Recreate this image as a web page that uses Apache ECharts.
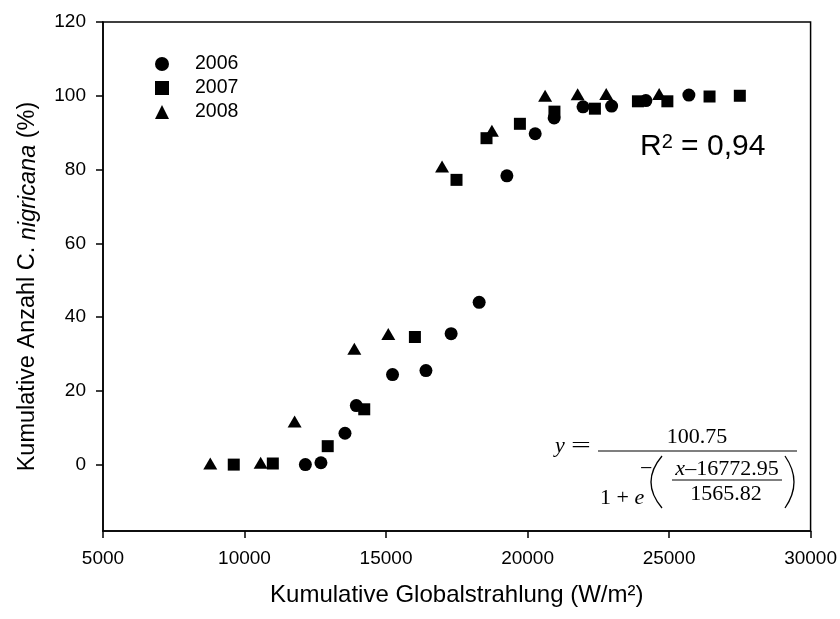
<!DOCTYPE html>
<html>
<head>
<meta charset="utf-8">
<script src="https://cdn.jsdelivr.net/npm/echarts@6/dist/echarts.min.js"></script>
<style>
  html, body { margin: 0; padding: 0; background: #fff; }
  #chart { width: 840px; height: 619px; }
</style>
</head>
<body>
<div id="chart"></div>
<script>
var myChart = echarts.init(document.getElementById('chart'));

// values
var years = ['2006', '2007', '2008'];

var x2006 = [12150, 12700, 13550, 13950, 15230, 16410, 17300, 18290, 19270, 20270, 20940, 21960, 22970, 24180, 25700];
var y2006 = [0, 0.5, 8.5, 16, 24.4, 25.5, 35.5, 44, 78.3, 89.7, 94, 97, 97.2, 98.7, 100.2];

var x2007 = [9620, 11000, 12940, 14230, 16020, 17490, 18550, 19730, 20950, 22380, 23900, 24940, 26430, 27500];
var y2007 = [0, 0.3, 5, 15, 34.6, 77.2, 88.5, 92.4, 95.7, 96.5, 98.5, 98.5, 99.8, 100];

var x2008 = [8790, 10570, 11770, 13880, 15080, 16980, 18740, 20620, 21770, 22780, 24650];
var y2008 = [0.3, 0.5, 11.7, 31.4, 35.4, 80.8, 90.5, 100, 100.4, 100.5, 100.5];

var yTicks = [0, 20, 40, 60, 80, 100, 120];

function pairs(xs, ys) {
    var out = [];
    for (var i = 0; i < xs.length; i++) {
        out.push([xs[i], ys[i]]);
    }
    return out;
}

var sans = '"Liberation Sans", Arial, sans-serif';
var serif = '"Liberation Serif", "Times New Roman", serif';
var axisLine = {onZero: false, lineStyle: {color: '#000', width: 1.5}};
var plain = function (v) { return String(v); };

myChart.setOption({
    backgroundColor: '#fff',
    animation: false,
    grid: {
        left: 103,
        right: 28,
        top: 22,
        bottom: 88,
        show: true,
        borderColor: '#000',
        borderWidth: 1.5
    },
    legend: {
        orient: 'vertical',
        left: 150,
        top: 49,
        itemWidth: 14,
        itemHeight: 14,
        itemGap: 4,
        selectedMode: false,
        data: years,
        textStyle: {
            fontFamily: sans,
            fontSize: 19.5,
            lineHeight: 20,
            color: '#000',
            padding: [0, 0, 0, 21]
        }
    },
    xAxis: {
        type: 'value',
        min: 5000,
        max: 30000,
        interval: 5000,
        axisLine: axisLine,
        axisTick: {show: true, length: 7, lineStyle: {color: '#000', width: 1.5}},
        axisLabel: {fontFamily: sans, fontSize: 19, color: '#000', margin: 18, formatter: plain},
        splitLine: {show: false},
        name: 'Kumulative Globalstrahlung (W/m²)',
        nameLocation: 'middle',
        nameGap: 52,
        nameTextStyle: {fontFamily: sans, fontSize: 24, color: '#000'}
    },
    yAxis: {
        type: 'value',
        min: -18,
        max: 120,
        axisLine: axisLine,
        axisTick: {show: true, length: 7, customValues: yTicks, lineStyle: {color: '#000', width: 1.5}},
        axisLabel: {fontFamily: sans, fontSize: 19, color: '#000', margin: 17, customValues: yTicks, formatter: plain},
        splitLine: {show: false},
        name: '{a|Kumulative Anzahl C. }{i|nigricana}{a| (%)}',
        nameLocation: 'middle',
        nameGap: 63,
        nameTextStyle: {
            fontFamily: sans,
            fontSize: 23.5,
            color: '#000',
            padding: [0, 20, 0, 0],
            rich: {
                a: {fontFamily: sans, fontSize: 23.5, color: '#000'},
                i: {fontFamily: sans, fontSize: 23.5, color: '#000', fontStyle: 'italic'}
            }
        }
    },
    series: [
        {
            name: '2006',
            type: 'scatter',
            symbol: 'circle',
            symbolSize: 13,
            itemStyle: {color: '#000', opacity: 1},
            data: pairs(x2006, y2006)
        },
        {
            name: '2007',
            type: 'scatter',
            symbol: 'rect',
            symbolSize: 12,
            itemStyle: {color: '#000', opacity: 1},
            data: pairs(x2007, y2007)
        },
        {
            name: '2008',
            type: 'scatter',
            symbol: 'triangle',
            symbolSize: [14, 12],
            itemStyle: {color: '#000', opacity: 1},
            data: pairs(x2008, y2008)
        }
    ],
    graphic: [
        {type: 'text', x: 640, y: 147, style: {
            text: '{r|R}{s|2}{r| = 0,94}', fill: '#000', verticalAlign: 'middle',
            rich: {
                r: {fontFamily: sans, fontSize: 30, color: '#000'},
                s: {fontFamily: sans, fontSize: 20, color: '#000', verticalAlign: 'top'}
            }
        }},
        // fitted curve formula
        {type: 'text', x: 555, y: 446, style: {text: 'y', font: 'italic 22px ' + serif, fill: '#000', verticalAlign: 'middle'}},
        {type: 'text', x: 571, y: 446, scaleX: 1.6, style: {text: '=', font: '22px ' + serif, fill: '#000', verticalAlign: 'middle'}},
        {type: 'line', shape: {x1: 598, y1: 451, x2: 797, y2: 451}, style: {stroke: '#000', lineWidth: 1.2}},
        {type: 'text', x: 697, y: 437, style: {text: '100.75', font: '22px ' + serif, fill: '#000', align: 'center', verticalAlign: 'middle'}},
        {type: 'text', x: 600, y: 498, style: {
            text: '1 + {i|e}', font: '22px ' + serif, fill: '#000', verticalAlign: 'middle',
            rich: {i: {fontStyle: 'italic', fontFamily: serif, fontSize: 22}}
        }},
        {type: 'text', x: 640, y: 469, style: {text: '−', font: '22px ' + serif, fill: '#000', verticalAlign: 'middle'}},
        {type: 'bezierCurve', shape: {x1: 662, y1: 456, cpx1: 640, cpy1: 482, x2: 662, y2: 508}, style: {stroke: '#000', lineWidth: 1.3, fill: null}},
        {type: 'bezierCurve', shape: {x1: 785, y1: 456, cpx1: 803, cpy1: 482, x2: 785, y2: 508}, style: {stroke: '#000', lineWidth: 1.3, fill: null}},
        {type: 'line', shape: {x1: 672, y1: 480, x2: 782, y2: 480}, style: {stroke: '#000', lineWidth: 1}},
        {type: 'text', x: 727, y: 469, style: {
            text: '{i|x}–16772.95', font: '22px ' + serif, fill: '#000', align: 'center', verticalAlign: 'middle',
            rich: {i: {fontStyle: 'italic', fontFamily: serif, fontSize: 22}}
        }},
        {type: 'text', x: 726, y: 494, style: {text: '1565.82', font: '22px ' + serif, fill: '#000', align: 'center', verticalAlign: 'middle'}}
    ]
});
</script>
</body>
</html>
